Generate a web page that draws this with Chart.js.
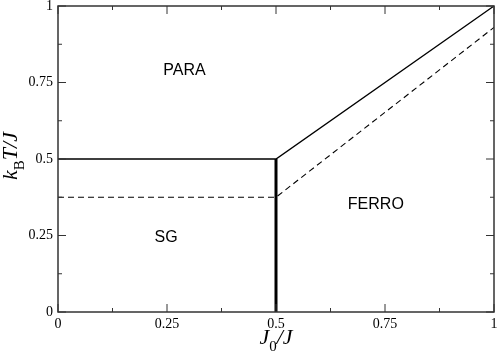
<!DOCTYPE html>
<html>
<head>
<meta charset="utf-8">
<script src="https://cdn.jsdelivr.net/npm/chart.js@4.4.1/dist/chart.umd.min.js"></script>
<style>
  html, body { margin: 0; padding: 0; background: #fff; }
  #wrap { width: 498px; height: 356px; }
</style>
</head>
<body>
<div id="wrap"><canvas id="phaseChart"></canvas></div>
<script>
// diagrama de fases: J0/J en x, kB T/J en y
const j0 = [0, 0.5, 1];
const tcSolid = [0.5, 0.5, 1];       // frontera PARA
const tcDashed = [0.375, 0.375, 0.93];
const sgFerroJ0 = [0.5, 0.5];        // frontera SG / FERRO
const sgFerroT = [0, 0.5];

const tickValues = [0, 0.25, 0.5, 0.75, 1];
const tickLabels = ['0', '0.25', '0.5', '0.75', '1'];
const minorValues = [0.125, 0.375, 0.625, 0.875];

const regionNames = ['PARA', 'SG', 'FERRO'];
const regionJ0 = [0.29, 0.248, 0.729];
const regionT = [0.788, 0.242, 0.35];

function toPoints(xs, ys) {
  return xs.map((x, i) => ({ x: x, y: ys[i] }));
}

function tickText(v) {
  const i = tickValues.indexOf(v);
  return i >= 0 ? tickLabels[i] : '';
}

// marco, ticks hacia adentro, etiquetas de regiones y títulos de ejes
const framePlugin = {
  id: 'frame',
  afterDraw(chart) {
    const ctx = chart.ctx;
    const a = chart.chartArea;
    const xs = chart.scales.x;
    const ys = chart.scales.y;
    ctx.save();
    ctx.strokeStyle = '#333';
    ctx.lineWidth = 1.5;
    ctx.strokeRect(a.left, a.top, a.right - a.left, a.bottom - a.top);

    function ticks(values, len) {
      values.forEach(v => {
        const px = xs.getPixelForValue(v);
        const py = ys.getPixelForValue(v);
        ctx.beginPath();
        ctx.moveTo(px, a.bottom); ctx.lineTo(px, a.bottom - len);
        ctx.moveTo(px, a.top); ctx.lineTo(px, a.top + len);
        ctx.moveTo(a.left, py); ctx.lineTo(a.left + len, py);
        ctx.moveTo(a.right, py); ctx.lineTo(a.right - len, py);
        ctx.stroke();
      });
    }
    ctx.lineWidth = 1;
    ticks(tickValues, 8);
    ticks(minorValues, 4);

    // regiones
    ctx.fillStyle = '#000';
    ctx.font = '16px "Liberation Sans", Arial, sans-serif';
    ctx.textAlign = 'center';
    ctx.textBaseline = 'middle';
    regionNames.forEach((name, i) => {
      ctx.fillText(name, xs.getPixelForValue(regionJ0[i]), ys.getPixelForValue(regionT[i]));
    });

    // títulos con subíndice
    ctx.textBaseline = 'alphabetic';
    ctx.textAlign = 'left';
    const big = 'italic 22px "Liberation Serif", "Times New Roman", serif';
    const sub = '15px "Liberation Serif", "Times New Roman", serif';
    function drawSubTitle(parts, x, y) {
      let cx = x;
      parts.forEach(p => {
        ctx.font = p.sub ? sub : big;
        ctx.fillText(p.t, cx, y + (p.sub ? 7 : 0));
        cx += ctx.measureText(p.t).width;
      });
    }
    function widthOf(parts) {
      let w = 0;
      parts.forEach(p => { ctx.font = p.sub ? sub : big; w += ctx.measureText(p.t).width; });
      return w;
    }
    const xTitle = [{ t: 'J' }, { t: '0', sub: true }, { t: '/J' }];
    const cxMid = (a.left + a.right) / 2;
    drawSubTitle(xTitle, cxMid - widthOf(xTitle) / 2, 344);

    const yTitle = [{ t: 'k' }, { t: 'B', sub: true }, { t: 'T/J' }];
    ctx.translate(17, 156);
    ctx.rotate(-Math.PI / 2);
    drawSubTitle(yTitle, -widthOf(yTitle) / 2, 0);
    ctx.restore();
  }
};

const tickFont = { family: '"Liberation Serif", "Times New Roman", serif', size: 14 };

new Chart(document.getElementById('phaseChart'), {
  type: 'line',
  data: {
    datasets: [
      {
        data: toPoints(j0, tcSolid),
        borderColor: '#000',
        borderWidth: 1.3,
        pointRadius: 0
      },
      {
        data: toPoints(j0, tcDashed),
        borderColor: '#000',
        borderWidth: 1.1,
        borderDash: [6, 4],
        pointRadius: 0
      },
      {
        data: toPoints(sgFerroJ0, sgFerroT),
        borderColor: '#000',
        borderWidth: 3,
        pointRadius: 0
      }
    ]
  },
  options: {
    responsive: true,
    maintainAspectRatio: false,
    animation: false,
    layout: { padding: { left: 0, top: 6, right: 4, bottom: 0 } },
    plugins: {
      legend: { display: false },
      tooltip: { enabled: false }
    },
    scales: {
      x: {
        type: 'linear',
        min: 0,
        max: 1,
        grid: { display: false, drawTicks: false },
        border: { display: false },
        ticks: {
          stepSize: 0.25,
          autoSkip: false,
          maxRotation: 0,
          padding: 4,
          color: '#000',
          font: tickFont,
          callback: tickText
        },
        afterFit: (s) => { s.height = 44; s.paddingLeft = 0; s.paddingRight = 0; }
      },
      y: {
        type: 'linear',
        min: 0,
        max: 1,
        grid: { display: false, drawTicks: false },
        border: { display: false },
        ticks: {
          stepSize: 0.25,
          autoSkip: false,
          padding: 5,
          color: '#000',
          font: tickFont,
          callback: tickText
        },
        afterFit: (s) => { s.width = 58; s.paddingTop = 0; s.paddingBottom = 0; }
      }
    }
  },
  plugins: [framePlugin]
});
</script>
</body>
</html>
